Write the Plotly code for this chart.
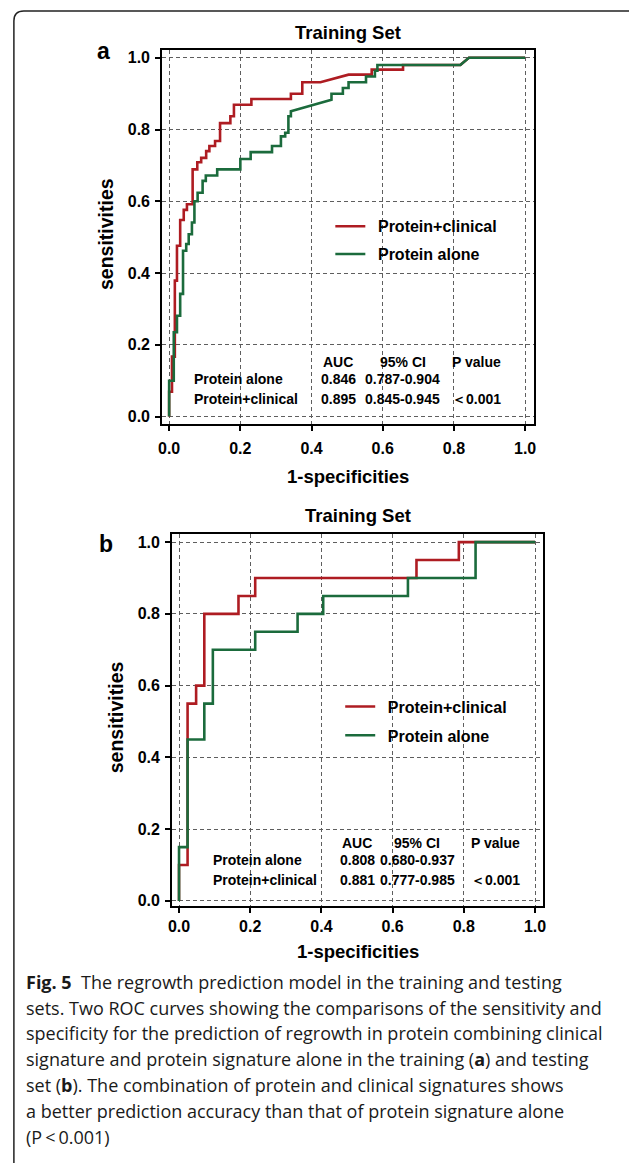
import plotly.graph_objects as go

W, H = 629, 1163

# ---------------- data ----------------
# Panel a (training set)
ra_x = [0, 0, 0.008, 0.008, 0.016, 0.016, 0.022, 0.022, 0.031, 0.031, 0.041, 0.041, 0.05, 0.05,
        0.066, 0.066, 0.079, 0.079, 0.09, 0.09, 0.104, 0.104, 0.113, 0.113, 0.129, 0.129, 0.143, 0.143,
        0.172, 0.172, 0.182, 0.182, 0.231, 0.231, 0.342, 0.342, 0.374, 0.374, 0.425, 0.504, 0.569, 0.569,
        0.657, 0.657, 0.818, 0.842, 1.0]
ra_y = [0, 0.069, 0.069, 0.167, 0.167, 0.379, 0.379, 0.476, 0.476, 0.548, 0.548, 0.576, 0.576, 0.592,
        0.592, 0.689, 0.689, 0.709, 0.709, 0.721, 0.721, 0.74, 0.74, 0.754, 0.754, 0.768, 0.768, 0.818,
        0.818, 0.837, 0.837, 0.869, 0.869, 0.885, 0.885, 0.90, 0.90, 0.932, 0.932, 0.953, 0.953, 0.967,
        0.967, 0.98, 0.98, 1.0, 1.0]
ga_x = [0, 0, 0.013, 0.013, 0.022, 0.022, 0.031, 0.031, 0.039, 0.039, 0.048, 0.048, 0.055, 0.055,
        0.064, 0.064, 0.071, 0.071, 0.08, 0.08, 0.094, 0.094, 0.103, 0.103, 0.135, 0.135, 0.20, 0.20,
        0.229, 0.229, 0.289, 0.289, 0.314, 0.314, 0.326, 0.326, 0.335, 0.335, 0.342, 0.342, 0.456, 0.456,
        0.488, 0.488, 0.504, 0.504, 0.553, 0.553, 0.578, 0.578, 0.585, 0.585, 0.818, 0.842, 1.0]
ga_y = [0, 0.10, 0.10, 0.235, 0.235, 0.281, 0.281, 0.342, 0.342, 0.462, 0.462, 0.481, 0.481, 0.508,
        0.508, 0.541, 0.541, 0.60, 0.60, 0.624, 0.624, 0.657, 0.657, 0.672, 0.672, 0.689, 0.689, 0.718,
        0.718, 0.737, 0.737, 0.754, 0.754, 0.781, 0.781, 0.791, 0.791, 0.837, 0.837, 0.851, 0.883, 0.90,
        0.90, 0.916, 0.916, 0.932, 0.932, 0.948, 0.948, 0.964, 0.964, 0.98, 0.98, 1.0, 1.0]

# Panel b
rb_x = [0, 0, 0.024, 0.024, 0.048, 0.048, 0.071, 0.071, 0.167, 0.167, 0.214, 0.214, 0.667, 0.667,
        0.786, 0.786, 1.0]
rb_y = [0, 0.10, 0.10, 0.55, 0.55, 0.60, 0.60, 0.80, 0.80, 0.85, 0.85, 0.90, 0.90, 0.95, 0.95, 1.0, 1.0]
gb_x = [0, 0, 0.024, 0.024, 0.071, 0.071, 0.095, 0.095, 0.214, 0.214, 0.333, 0.333, 0.405, 0.405,
        0.643, 0.643, 0.833, 0.833, 1.0]
gb_y = [0, 0.15, 0.15, 0.45, 0.45, 0.55, 0.55, 0.70, 0.70, 0.75, 0.75, 0.80, 0.80, 0.85, 0.85, 0.90,
        0.90, 1.0, 1.0]

series_names = ["Protein+clinical", "Protein alone"]
tick_vals = [0.0, 0.2, 0.4, 0.6, 0.8, 1.0]
tick_text = ["0.0", "0.2", "0.4", "0.6", "0.8", "1.0"]

table_header = ["AUC", "95% CI", "P value"]
table_rows = ["Protein alone", "Protein+clinical"]
auc_a = ["0.846", "0.895"]
ci_a = ["0.787-0.904", "0.845-0.945"]
auc_b = ["0.808", "0.881"]
ci_b = ["0.680-0.937", "0.777-0.985"]
pval = ["", "\uff1c0.001"]

caption = [
    "<b>Fig. 5</b>  The regrowth prediction model in the training and testing",
    "sets. Two ROC curves showing the comparisons of the sensitivity and",
    "specificity for the prediction of regrowth in protein combining clinical",
    "signature and protein signature alone in the training (<b>a</b>) and testing",
    "set (<b>b</b>). The combination of protein and clinical signatures shows",
    "a better prediction accuracy than that of protein signature alone",
    "(P\u2009<\u20090.001)",
]

# ---------------- styling ----------------
RED = "#AE1C22"
GREEN = "#1B6B3C"
FONT = "Liberation Sans, Arial, sans-serif"
PAD = "\u00a0\u2009"  # small gap between legend line and label

def px(x):
    return x / W

def py(y):
    return 1 - y / H

fig = go.Figure()
for xs, ys, nm, col, xa, ya, lg, grp in [
    (ra_x, ra_y, series_names[0], RED, "x", "y", "legend", "a1"),
    (ga_x, ga_y, series_names[1], GREEN, "x", "y", "legend", "a2"),
    (rb_x, rb_y, series_names[0], RED, "x2", "y2", "legend2", "b1"),
    (gb_x, gb_y, series_names[1], GREEN, "x2", "y2", "legend2", "b2"),
]:
    fig.add_trace(go.Scatter(x=xs, y=ys, mode="lines", name=PAD + nm, legendgroup=grp,
                             line=dict(color=col, width=2.6), xaxis=xa, yaxis=ya, legend=lg))

axis_common = dict(
    tickvals=tick_vals, ticktext=tick_text,
    showline=True, linecolor="black", linewidth=2, mirror=True,
    ticks="outside", ticklen=5, tickwidth=2, tickcolor="black",
    showgrid=True, gridcolor="#5e5e5e", gridwidth=1, griddash="4px,3px",
    zeroline=False, fixedrange=True,
    tickfont=dict(family=FONT, size=16, color="black", weight="bold"),
)

def frame(left, top, right, bottom, zero_x, zero_y):
    xr = [-(zero_x - left) / 360, (right - zero_x) / 360]
    yr = [-(bottom - zero_y) / 360, (zero_y - top) / 360]
    xd = [px(left), px(right)]
    yd = [py(bottom), py(top)]
    return xr, yr, xd, yd

xr_a, yr_a, xd_a, yd_a = frame(160, 50, 536, 425, 167, 418)
xr_b, yr_b, xd_b, yd_b = frame(170, 536, 545, 909, 177, 904)

legend_font = dict(family=FONT, size=16, weight="bold", color="black")
fig.update_layout(
    width=W, height=H, autosize=False,
    margin=dict(l=0, r=0, t=0, b=0),
    paper_bgcolor="white", plot_bgcolor="white",
    font=dict(family=FONT, color="black"),
    xaxis=dict(domain=xd_a, range=xr_a, anchor="y", ticklabelstandoff=4, **axis_common),
    yaxis=dict(domain=yd_a, range=yr_a, anchor="x", ticklabelstandoff=2, **axis_common),
    xaxis2=dict(domain=xd_b, range=xr_b, anchor="y2", ticklabelstandoff=0, **axis_common),
    yaxis2=dict(domain=yd_b, range=yr_b, anchor="x2", ticklabelstandoff=2, **axis_common),
    legend=dict(x=px(330), y=py(210), xanchor="left", yanchor="top",
                bgcolor="rgba(0,0,0,0)", font=legend_font, itemwidth=30, tracegroupgap=4),
    legend2=dict(x=px(340), y=py(692), xanchor="left", yanchor="top",
                 bgcolor="rgba(0,0,0,0)", font=legend_font, itemwidth=30, tracegroupgap=5),
    showlegend=True,
)

ann = []

def text(x, y, s, size, anchor="center", bold=True, family=FONT, color="black"):
    ann.append(dict(x=px(x), y=py(y), xref="paper", yref="paper", text=(f"<b>{s}</b>" if bold else s),
                    showarrow=False, xanchor=anchor, yanchor="middle",
                    font=dict(family=family, size=size, color=color)))

# titles, panel letters, axis titles
text(348, 33, "Training Set", 18.5)
text(358, 517, "Training Set", 18.5)
text(101, 51, "a", 23)
text(103, 546, "b", 23)
text(348, 478, "1-specificities", 18.5)
text(358, 955, "1-specificities", 18.5)
for (x, y) in [(103, 235), (113, 720)]:
    ann.append(dict(x=px(x), y=py(y), xref="paper", yref="paper", text="<b>sensitivities</b>",
                    showarrow=False, textangle=-90, xanchor="center", yanchor="middle",
                    font=dict(family=FONT, size=19.5, color="black")))

# AUC tables
def table(x0, y0, xa, xc, xp, aucs, cis):
    text(xa, y0, table_header[0], 14)
    text(xc, y0, table_header[1], 14)
    text(xp, y0, table_header[2], 14)
    for i, name in enumerate(table_rows):
        yy = y0 + 17 + i * 20
        text(x0, yy, name, 14, anchor="left")
        text(xa, yy, aucs[i], 14)
        text(xc, yy, cis[i], 14)
        if pval[i]:
            text(xp, yy, pval[i], 14)

table(190, 363, 338, 403, 478, auc_a, ci_a)
table(209, 846, 357, 418, 497, auc_b, ci_b)

# caption
for i, line in enumerate(caption):
    ann.append(dict(x=px(20), y=py(985 + i * 26), xref="paper", yref="paper", text=line,
                    showarrow=False, xanchor="left", yanchor="middle",
                    font=dict(family="Open Sans, sans-serif", size=18, color="#1a1a1a")))

fig.update_layout(annotations=ann)

# card border (rounded top-left corner)
x0, yt, r = 10, 11, 10
path = (f"M {px(x0)},{py(H + 5)} L {px(x0)},{py(yt + r)} "
        f"Q {px(x0)},{py(yt)} {px(x0 + r)},{py(yt)} L {px(W + 5)},{py(yt)}")
fig.add_shape(type="path", path=path, xref="paper", yref="paper",
              line=dict(color="#222", width=1.5))

fig.write_html("out.html", post_script="document.body.style.margin='0';",
               config={"displayModeBar": False})
